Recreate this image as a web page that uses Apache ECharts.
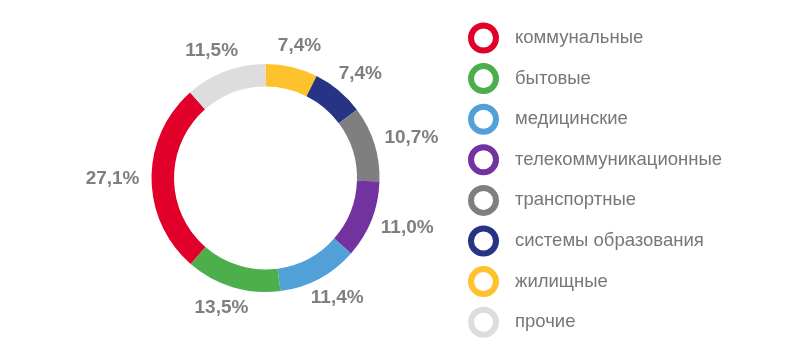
<!DOCTYPE html>
<html>
<head>
<meta charset="utf-8">
<script src="https://cdn.jsdelivr.net/npm/echarts@6/dist/echarts.min.js"></script>
<style>
html,body{margin:0;padding:0;background:#fff;}
#chart{width:792px;height:355px;}
</style>
</head>
<body>
<div id="chart"></div>
<script>
// Slices in drawing order (clockwise from 12 o'clock)
var categories = ['жилищные', 'системы образования', 'транспортные', 'телекоммуникационные', 'медицинские', 'бытовые', 'коммунальные', 'прочие'];
var values = [7.4, 7.4, 10.7, 11.0, 11.4, 13.5, 27.1, 11.5];
var colors = ['#FEC22E', '#273486', '#7F7F7F', '#7232A0', '#52A0D8', '#4DAE4C', '#E0002A', '#DDDDDD'];
// Legend order
var legendOrder = ['коммунальные', 'бытовые', 'медицинские', 'телекоммуникационные', 'транспортные', 'системы образования', 'жилищные', 'прочие'];

var chart = echarts.init(document.getElementById('chart'), null, {renderer: 'canvas'});

var data = categories.map(function (c, i) {
  return {name: c, value: values[i], itemStyle: {color: colors[i]}};
});

var legendData = legendOrder.map(function (n) {
  var c = colors[categories.indexOf(n)];
  return {name: n, itemStyle: {color: '#ffffff', borderColor: c, borderWidth: 6}};
});

function fmt(v) {
  return v.toFixed(1).replace('.', ',') + '%';
}

chart.setOption({
  animation: false,
  backgroundColor: '#ffffff',
  legend: {
    orient: 'vertical',
    left: 463,
    top: 17.5,
    data: legendData,
    icon: 'circle',
    itemWidth: 25,
    itemHeight: 25,
    itemGap: 9.6,
    selectedMode: false,
    textStyle: {
      fontFamily: '"Liberation Sans", Arial, sans-serif',
      fontSize: 18.5,
      color: '#777777',
      padding: [0, 0, 0, 14]
    }
  },
  series: [{
    type: 'pie',
    center: [265.5, 178],
    radius: [91.5, 114],
    startAngle: 90,
    clockwise: true,
    avoidLabelOverlap: false,
    data: data,
    label: {
      show: true,
      position: 'outside',
      formatter: function (p) { return fmt(p.value); },
      fontFamily: '"Liberation Sans", Arial, sans-serif',
      fontSize: 19,
      fontWeight: 'bold',
      color: '#7F7F7F'
    },
    labelLine: {
      show: true,
      length: 10,
      length2: 0,
      lineStyle: {opacity: 0, width: 0}
    },
    labelLayout: function (params) {
      var pts = params.labelLinePoints;
      if (!pts || pts.length < 2) return {};
      var p0 = pts[0], p1 = pts[1];
      var dx = p1[0] - p0[0], dy = p1[1] - p0[1];
      var d = Math.sqrt(dx * dx + dy * dy) || 1;
      dx /= d; dy /= d;
      var w = params.labelRect.width, h = params.labelRect.height;
      var g = 12;
      return {
        x: p0[0] + dx * g + dx * w / 2,
        y: p0[1] + dy * g + dy * h / 2,
        align: 'center',
        verticalAlign: 'middle'
      };
    },
    emphasis: {disabled: true}
  }]
});
</script>
</body>
</html>
